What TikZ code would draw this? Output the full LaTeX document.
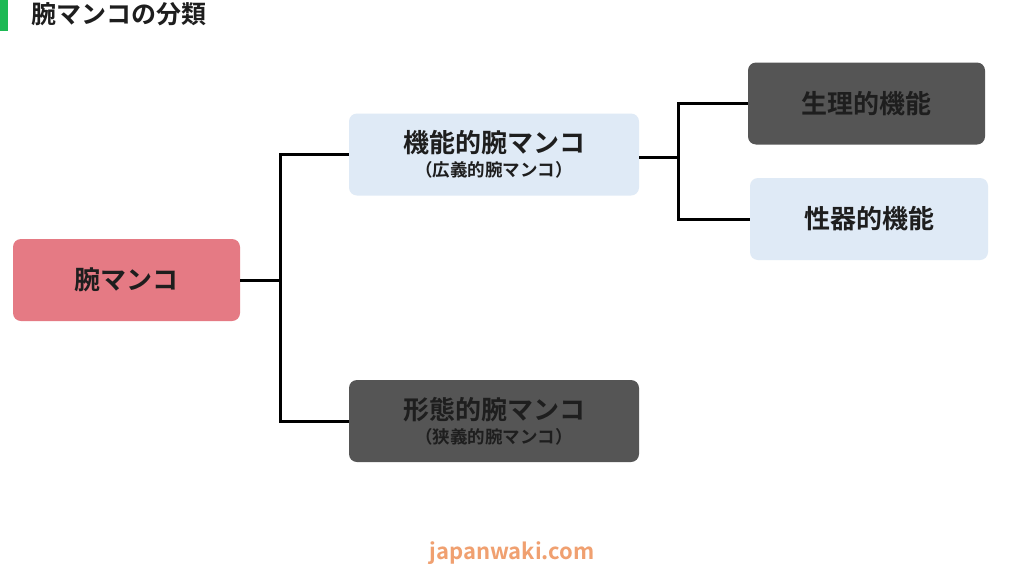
\documentclass[tikz,border=0pt]{standalone}
\usepackage{fontspec}
\newfontfamily\cjk{Noto Sans CJK JP}[BoldFont={* Bold}]
\definecolor{pinkb}{HTML}{E57A84}
\definecolor{blueb}{HTML}{DFEAF6}
\definecolor{grayb}{HTML}{555555}
\definecolor{txt}{HTML}{1E1E1E}
\definecolor{grn}{HTML}{1DB954}
\definecolor{org}{HTML}{F0A070}
\tikzset{
 box/.style={rounded corners=8pt,minimum height=82pt,text=txt,font=\cjk\bfseries\fontsize{26}{28}\selectfont,align=center,inner sep=0pt},
 conn/.style={line width=3pt,black}
}
\begin{document}
\begin{tikzpicture}[x=1pt,y=-1pt]
\useasboundingbox (0,0) rectangle (1024,576);
\fill[white] (0,0) rectangle (1024,576);
\fill[grn] (0,0) rectangle (8,31);
\node[anchor=west,font=\cjk\bfseries\fontsize{25}{27}\selectfont,text=txt] (title) at (28,14) {腕マンコの分類};
\node[box,fill=pinkb,minimum width=227pt] (root) at (126.5,280) {腕マンコ};
\node[box,fill=blueb,minimum width=290pt] (func) at (494,154.5) {機能的腕マンコ\\[-4pt]{\fontsize{17.5}{19}\selectfont（広義的腕マンコ）}};
\node[box,fill=grayb,minimum width=290pt] (morph) at (494,421) {形態的腕マンコ\\[-4pt]{\fontsize{17.5}{19}\selectfont（狭義的腕マンコ）}};
\node[box,fill=grayb,minimum width=237pt] (phys) at (866.5,103.5) {生理的機能};
\node[box,fill=blueb,minimum width=238pt] (sex) at (869,219) {性器的機能};
\coordinate (j1) at (280,280);
\coordinate (j2) at (678,157);
\draw[conn] (root.east) -- (j1);
\draw[conn] (func.west) -| (j1) |- (morph.west);
\draw[conn] (func.east |- j2) -- (j2);
\draw[conn] (phys.west) -| (j2) |- (sex.west);
\node[font=\cjk\bfseries\fontsize{22}{25}\selectfont,text=org] (wm) at (512,553) {japanwaki.com};
\end{tikzpicture}
\end{document}
